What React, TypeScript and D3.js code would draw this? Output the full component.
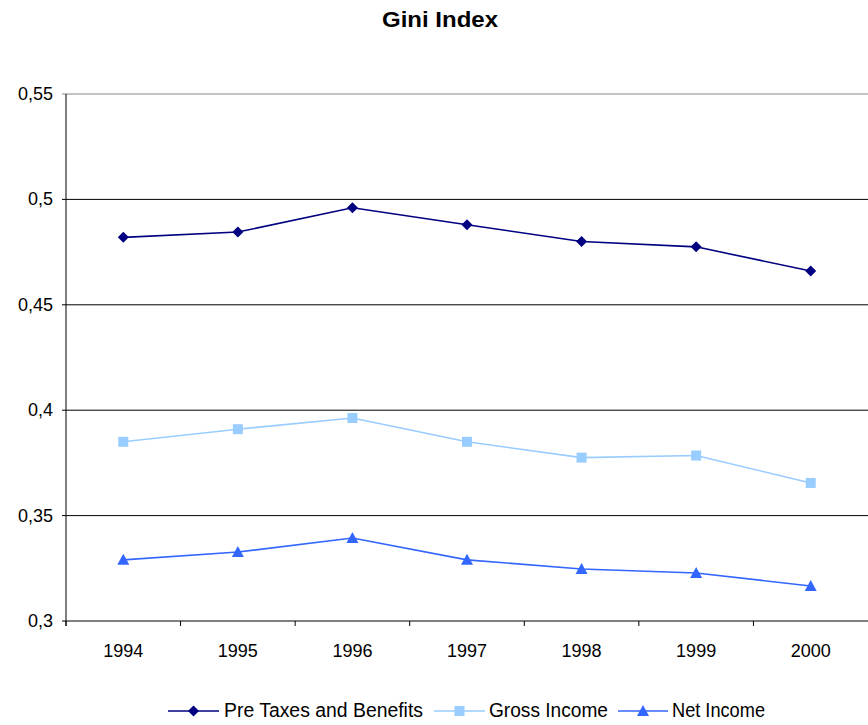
import React from "react";
import * as d3 from "d3";

const years = ["1994", "1995", "1996", "1997", "1998", "1999", "2000"];
const preTaxes = [0.482, 0.4845, 0.496, 0.488, 0.480, 0.4775, 0.466];
const grossIncome = [0.385, 0.391, 0.3963, 0.385, 0.3775, 0.3785, 0.3655];
const netIncome = [0.329, 0.3327, 0.3394, 0.329, 0.3247, 0.3228, 0.3166];
const yTicks = [0.3, 0.35, 0.4, 0.45, 0.5, 0.55];

const W = 868, H = 725;
const left = 66, right = 868, top = 94, bottom = 621;
const font = "Liberation Sans, Arial, sans-serif";

export default function App() {
  const x = d3.scaleBand().domain(years).range([left, right]);
  const y = d3.scaleLinear().domain([0.3, 0.55]).range([bottom, top]);
  const line = d3.line<number>().x((_, i) => (x(years[i]) as number) + x.bandwidth() / 2).y((d) => y(d));
  const series = [
    { name: "Pre Taxes and Benefits", data: preTaxes, color: "#000080", shape: "diamond" },
    { name: "Gross Income", data: grossIncome, color: "#99CCFF", shape: "square" },
    { name: "Net Income", data: netIncome, color: "#3366FF", shape: "triangle" },
  ];
  const marker = (shape: string, cx: number, cy: number, color: string, key: any) => {
    if (shape === "diamond") {
      const s = 5.5;
      return <path key={key} d={`M${cx},${cy - s}L${cx + s},${cy}L${cx},${cy + s}L${cx - s},${cy}Z`} fill={color} />;
    }
    if (shape === "square") {
      return <rect key={key} x={cx - 5} y={cy - 5} width={10} height={10} fill={color} />;
    }
    return <path key={key} d={`M${cx},${cy - 6}L${cx + 6},${cy + 5}L${cx - 6},${cy + 5}Z`} fill={color} />;
  };
  const legendLine = [[168, 219], [434, 485], [618, 668]];
  const legendText = [[224, 199], [489, 119], [672, 93]];
  return (
    <svg width={W} height={H} style={{ position: "absolute", left: 0, top: 0, background: "#fff" }}>
      <text x={440} y={27} textAnchor="middle" fontFamily={font} fontWeight="bold" fontSize={22.5} textLength={116} lengthAdjust="spacingAndGlyphs">Gini Index</text>
      {yTicks.map((t) => (
        <g key={t}>
          <line x1={left - 4} x2={right} y1={y(t)} y2={y(t)} stroke={t === 0.55 ? "#888" : "#000"} strokeWidth={1} />
          <text x={53} y={y(t) + 6} textAnchor="end" fontFamily={font} fontSize={18}>{String(t).replace(".", ",")}</text>
        </g>
      ))}
      <line x1={left} x2={left} y1={top} y2={bottom + 5} stroke="#000" />
      {years.map((yr) => (
        <g key={yr}>
          <line x1={(x(yr) as number)} x2={(x(yr) as number)} y1={bottom} y2={bottom + 5} stroke="#000" />
          <text x={(x(yr) as number) + x.bandwidth() / 2} y={657} textAnchor="middle" fontFamily={font} fontSize={18}>{yr}</text>
        </g>
      ))}
      {series.map((s) => (
        <g key={s.name}>
          <path d={line(s.data) || ""} fill="none" stroke={s.color} strokeWidth={1.6} />
          {s.data.map((v, i) => marker(s.shape, (x(years[i]) as number) + x.bandwidth() / 2, y(v), s.color, i))}
        </g>
      ))}
      {series.map((s, i) => {
        const [l1, l2] = legendLine[i];
        const [tx, tw] = legendText[i];
        return (
          <g key={"lg" + s.name}>
            <line x1={l1} x2={l2} y1={711} y2={711} stroke={s.color} strokeWidth={1.6} />
            {marker(s.shape, (l1 + l2) / 2, 711, s.color, "m")}
            <text x={tx} y={717} fontFamily={font} fontSize={19.5} textLength={tw} lengthAdjust="spacingAndGlyphs">{s.name}</text>
          </g>
        );
      })}
    </svg>
  );
}
